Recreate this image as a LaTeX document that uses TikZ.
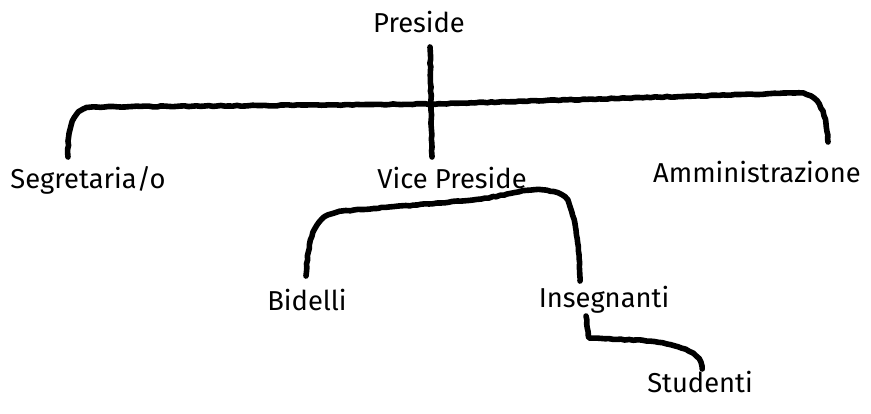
\documentclass[tikz,border=0pt]{standalone}
\usepackage{fontspec}
\setmainfont{Fira Sans}
\usetikzlibrary{calc,decorations.pathmorphing}
\begin{document}
\begin{tikzpicture}[x=0.75pt, y=-0.75pt, line join=round, line cap=round,
  font=\fontsize{20.5}{22}\selectfont,
  brush/.style={line width=4.2pt, black, decorate,
    decoration={random steps, segment length=3pt, amplitude=0.35pt}}]
  \useasboundingbox (0,0) rectangle (871,414);
  % ruoli
  \node (preside) at (419,22) {Preside};
  \node (segr) at (88,180) {Segretaria/o};
  \node (vice) at (452,178) {Vice Preside};
  \node (ammin) at (757,172) {Amministrazione};
  \node (bidelli) at (307,300) {Bidelli};
  \node (insegn) at (604,300) {Insegnanti};
  \node (stud) at (700,382) {Studenti};
  % tratti
  \coordinate (incrocio) at ($(preside)+(12,82)$);
  \draw[brush] ($(preside)+(11,25)$) -- ($(vice)+(-20,-21)$);
  \draw[brush] ($(segr)+(-20,-23)$) .. controls ($(segr)+(-20,-56)$)
    and ($(segr)+(-15,-72)$) .. ($(segr)+(5,-73)$)
    -- (incrocio);
  \draw[brush] (incrocio) -- ($(ammin)+(38,-79)$)
    .. controls ($(ammin)+(58,-80)$) and ($(ammin)+(69,-67)$)
    .. ($(ammin)+(71,-30)$);
  \draw[brush] ($(bidelli)+(-1,-24)$) .. controls ($(bidelli)+(2,-71)$)
    and ($(bidelli)+(10,-85)$) .. ($(bidelli)+(35,-89)$)
    -- ($(bidelli)+(110,-95)$)
    .. controls ($(bidelli)+(150,-99)$) and ($(bidelli)+(170,-99)$)
    .. ($(bidelli)+(200,-106)$)
    .. controls ($(bidelli)+(220,-111)$) and ($(bidelli)+(245,-113)$)
    .. ($(bidelli)+(258,-103)$)
    .. controls ($(bidelli)+(268,-91)$) and ($(bidelli)+(273,-51)$)
    .. ($(insegn)+(-24,-19)$);
  \draw[brush] ($(insegn)+(-18,16)$) -- ($(insegn)+(-15,38)$)
    -- ($(insegn)+(31,40)$)
    .. controls ($(insegn)+(70,42)$) and ($(insegn)+(97,50)$)
    .. ($(stud)+(2,-13)$);
\end{tikzpicture}
\end{document}
